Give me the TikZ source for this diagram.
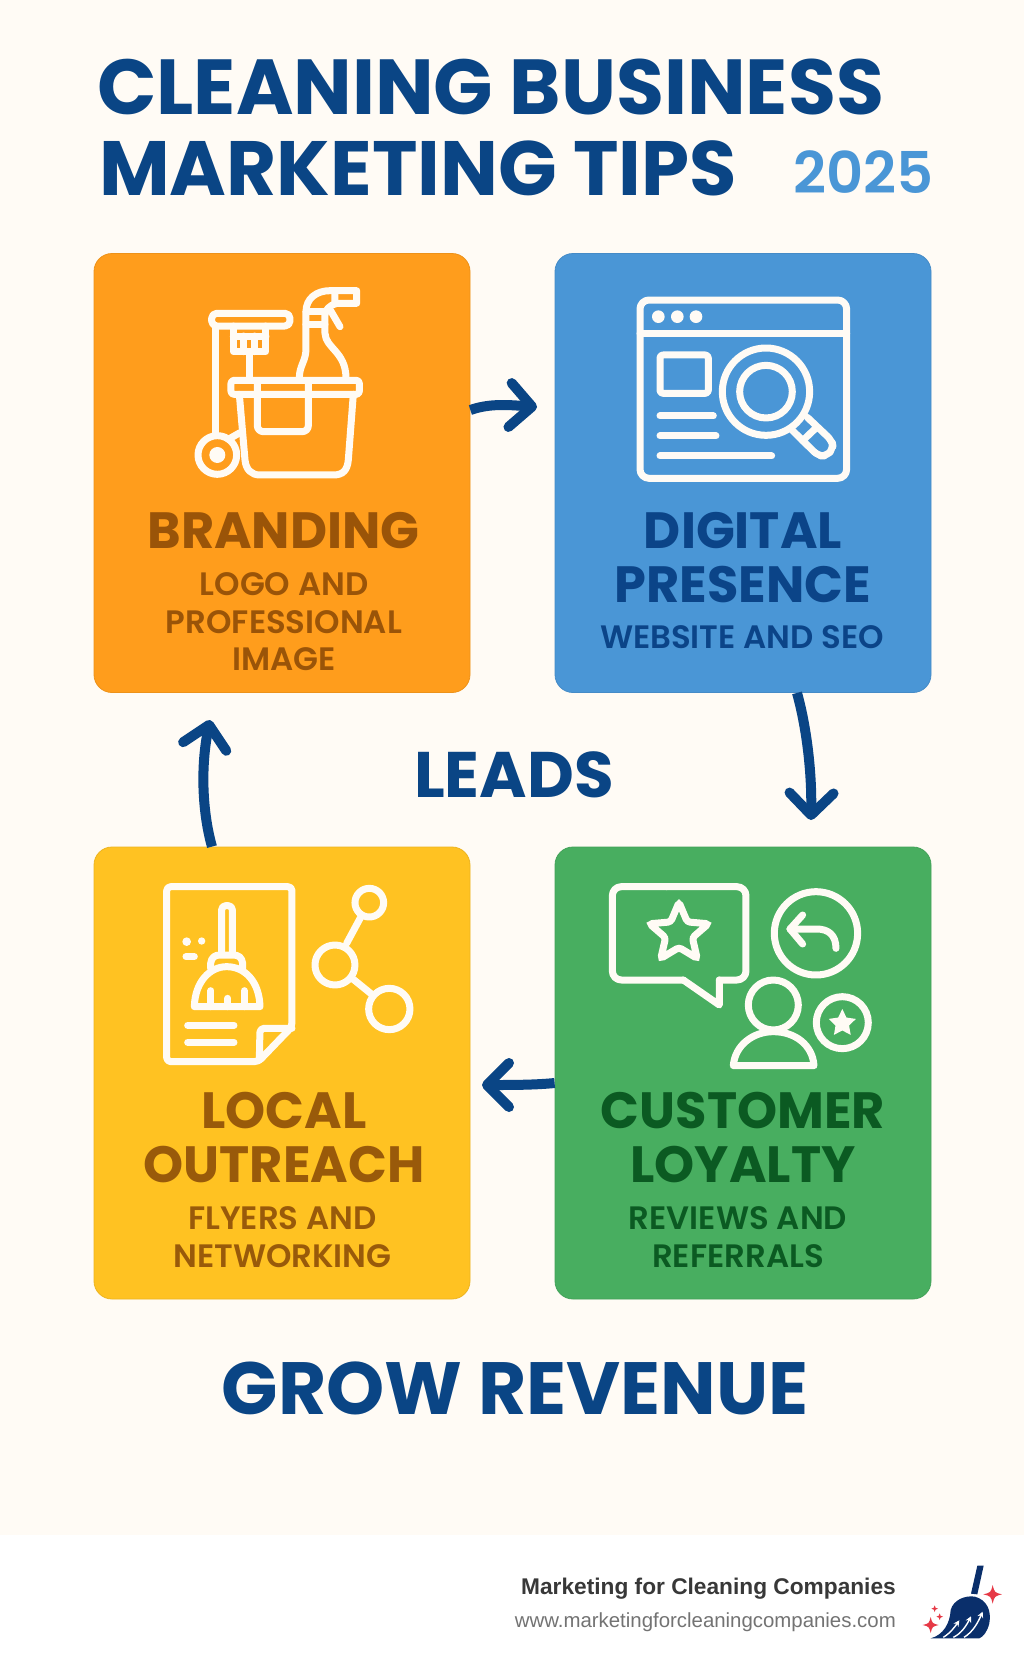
\documentclass[tikz,border=0pt]{standalone}
\usepackage{fontspec}
\setmainfont{Poppins}
\newfontfamily\subfont[UprightFont=* SemiBold]{Poppins}
\newfontfamily\footfont{Liberation Sans}
\usetikzlibrary{arrows.meta,shapes.geometric}
\definecolor{paper}{HTML}{FFFBF5}
\definecolor{navy}{HTML}{0A4585}
\definecolor{logonavy}{HTML}{0A2F6B}
\definecolor{sparkred}{HTML}{E63946}
\definecolor{boxorange}{HTML}{FF9D1C}
\definecolor{boxblue}{HTML}{4A96D6}
\definecolor{boxyellow}{HTML}{FFC222}
\definecolor{boxgreen}{HTML}{48AE60}
\definecolor{inkorange}{HTML}{9A5408}
\definecolor{inkblue}{HTML}{0B4488}
\definecolor{inkyellow}{HTML}{995A0A}
\definecolor{inkgreen}{HTML}{0B5A22}
\tikzset{
  tile/.style={draw=#1!93!black,line width=0.8pt,fill=#1,rounded corners=18pt,minimum width=376pt,minimum height=439pt,inner sep=0pt},
  head/.style={inner sep=0pt,align=center,text=#1,font=\fontsize{51}{54}\selectfont\bfseries},
  sub/.style={inner sep=0pt,align=center,text=#1,font=\subfont\fontsize{32.4}{37.5}\selectfont},
  flowarrow/.style={draw=navy,line width=10pt,-{Straight Barb[length=22pt,width=44pt,round]}},
  icon/.style={draw=paper,line width=7pt,line cap=round,line join=round},
  zoomed/.style={x=0.3333pt,y=-0.3333pt}
}
\newcommand{\sparkle}[3]{\fill[sparkred] (#1-#3,#2) .. controls (#1-0.2*#3,#2-0.2*#3) .. (#1,#2-#3) .. controls (#1+0.2*#3,#2-0.2*#3) .. (#1+#3,#2) .. controls (#1+0.2*#3,#2+0.2*#3) .. (#1,#2+#3) .. controls (#1-0.2*#3,#2+0.2*#3) .. cycle;}
\begin{document}
\begin{tikzpicture}[x=1pt,y=-1pt]
  \useasboundingbox (0,0) rectangle (1024,1666);
  \fill[paper] (0,0) rectangle (1024,1535);
  \fill[white] (0,1535) rectangle (1024,1666);

  \node[inner sep=0pt,anchor=west,text=navy,font=\fontsize{78}{90}\selectfont\bfseries] (titleone) at (97,87) {CLEANING BUSINESS};
  \node[inner sep=0pt,anchor=west,text=navy,font=\fontsize{77}{90}\selectfont\bfseries] (titletwo) at (99,168) {MARKETING TIPS};
  \node[inner sep=0pt,anchor=east,text=boxblue,font=\subfont\fontsize{57.5}{70}\selectfont] (year) at (934,172) {2025};

  \node[tile=boxorange] (branding) at (282,473) {};
  \node[tile=boxblue] (digital) at (743,473) {};
  \node[tile=boxyellow,minimum height=452pt] (outreach) at (282,1073) {};
  \node[tile=boxgreen,minimum height=452pt] (loyalty) at (743,1073) {};

  \node[head=inkorange] (brandinghead) at (283.5,531) {BRANDING};
  \node[sub=inkorange] (brandingsub) at (284,622) {LOGO AND\\PROFESSIONAL\\IMAGE};
  \node[head=inkblue] (digitalhead) at (743,558) {DIGITAL\\PRESENCE};
  \node[sub=inkblue] (digitalsub) at (742,637) {WEBSITE AND SEO};
  \node[head=inkyellow] (outreachhead) at (284,1138) {LOCAL\\OUTREACH};
  \node[sub=inkyellow] (outreachsub) at (282.5,1237) {FLYERS AND\\NETWORKING};
  \node[head=inkgreen] (loyaltyhead) at (743,1138) {CUSTOMER\\LOYALTY};
  \node[sub=inkgreen] (loyaltysub) at (738,1237) {REVIEWS AND\\REFERRALS};

  \node[inner sep=0pt,text=navy,font=\fontsize{64.4}{68}\selectfont\bfseries] (leads) at (514,775) {LEADS};
  \node[inner sep=0pt,text=navy,font=\fontsize{74}{80}\selectfont\bfseries] (revenue) at (515,1388) {GROW REVENUE};

  % free ends of the arrows
  \coordinate (digitalin) at (537,407);
  \coordinate (loyaltyin) at (811,820);
  \coordinate (outreachin) at (482,1085);
  \coordinate (brandingin) at (210,720);
  \draw[flowarrow] ([yshift=63pt]branding.east) .. controls (490,403) and (510,405) .. (digitalin);
  \draw[flowarrow] ([xshift=54pt]digital.south) .. controls (806,725) and (812,770) .. (loyaltyin);
  \draw[flowarrow] ([yshift=-10pt]loyalty.west) .. controls (535,1085) and (510,1085) .. (outreachin);
  \draw[flowarrow] ([xshift=-70pt]outreach.north) .. controls (203,815) and (200,770) .. (brandingin);

  % cleaning caddy
  \begin{scope}[shift={(180,270)},zoomed]
    \draw[icon,rounded corners=5pt] (95,130) rectangle (330,168);
    \draw[icon] (108,168)--(108,495);
    \draw[icon] (160,168)--(160,245)--(258,245)--(258,168);
    \draw[icon] (160,198)--(258,198) (192,198)--(192,245) (225,198)--(225,245);
    \draw[icon] (210,245)--(210,330);
    \draw[icon] (112,555) circle[radius=58];
    \fill[paper] (112,555) circle[radius=24];
    \draw[icon] (145,508)--(180,488);
    \draw[icon,rounded corners=3pt] (153,331) rectangle (538,373);
    \draw[icon] (178,373)--(195,570) .. controls (198,600) and (215,615) .. (240,615)--(460,615) .. controls (490,615) and (502,600) .. (505,570)--(520,373);
    \draw[icon,rounded corners=6pt] (232,335)--(232,485)--(385,485)--(385,335);
    \draw[icon] (358,325) .. controls (358,285) and (378,275) .. (378,235)--(378,125) .. controls (378,85) and (410,62) .. (450,62)--(530,62)--(530,100)--(470,100) .. controls (450,105) and (435,120) .. (435,135)--(435,190) .. controls (437,235) and (498,245) .. (498,325);
    \draw[icon] (378,125)--(435,125) (378,162)--(435,162);
    \draw[icon] (465,62)--(465,100) (452,122)--(480,170);
  \end{scope}

  % browser and magnifier
  \begin{scope}[shift={(620,280)},zoomed]
    \draw[icon,rounded corners=9pt] (60,60) rectangle (680,595);
    \draw[icon] (60,160)--(680,160);
    \foreach \dotx in {115,172,228}
      \fill[paper] (\dotx,110) circle[radius=19];
    \draw[icon,rounded corners=3pt] (120,225) rectangle (265,340);
    \draw[icon] (120,408)--(280,408) (120,468)--(288,468) (120,528)--(455,528);
    \draw[icon] (438,335) circle[radius=131];
    \draw[icon] (438,335) circle[radius=79];
    \draw[icon,rounded corners=6pt] (562,412)--(636,482)--(640,505)--(620,528)--(595,528)--(518,452);
    \draw[icon] (548,482)--(590,442);
  \end{scope}

  % flyer and network
  \begin{scope}[shift={(150,870)},zoomed]
    \draw[icon,rounded corners=4pt] (200,50)--(426,50)--(426,470)--(325,575)--(50,575)--(50,50)--(200,50);
    \draw[icon,rounded corners=4pt] (426,475)--(330,475)--(328,570);
    \draw[icon,rounded corners=4pt] (215,250)--(215,107)--(247,107)--(247,250);
    \draw[icon] (182,295)--(182,280) .. controls (184,262) and (195,255) .. (210,255)--(250,255) .. controls (265,255) and (276,262) .. (278,280)--(278,295);
    \draw[icon] (133,410) .. controls (135,335) and (180,290) .. (230,290) .. controls (285,290) and (328,335) .. (330,410)--cycle;
    \draw[icon] (183,362)--(183,410) (233,385)--(233,410) (283,362)--(283,410);
    \fill[paper] (110,215) circle[radius=13] (155,213) circle[radius=11];
    \draw[icon] (108,260)--(133,260);
    \draw[icon] (113,466)--(252,466) (113,517)--(252,517);
    \draw[icon] (658,98) circle[radius=43] (555,285) circle[radius=60] (718,417) circle[radius=62];
    \draw[icon] (632,142)--(590,220) (610,328)--(668,375);
  \end{scope}

  % reviews and referrals
  \begin{scope}[shift={(600,870)},zoomed]
    \draw[icon,rounded corners=9pt] (200,50)--(438,50)--(438,330)--(358,330);
    \draw[icon,rounded corners=9pt] (250,330)--(37,330)--(37,50)--(200,50);
    \draw[icon] (358,330)--(358,405)--(250,330);
    \node[star,star points=5,star point ratio=2.2,minimum size=62pt,draw=paper,line width=7pt,rounded corners=3pt,inner sep=0pt] (ratestar) at (237,190) {};
    \draw[icon] (648,190) circle[radius=125];
    \draw[icon] (708,235) .. controls (708,195) and (685,177) .. (650,177)--(570,177);
    \draw[icon] (608,135)--(570,177)--(608,222);
    \draw[icon] (520,405) circle[radius=75];
    \draw[icon] (400,587) .. controls (405,525) and (460,485) .. (520,485) .. controls (585,485) and (638,525) .. (642,587)--cycle;
    \draw[icon] (727,458) circle[radius=78];
    \node[star,star points=5,star point ratio=2.0,minimum size=24pt,fill=paper,draw=paper,line width=2pt,inner sep=0pt] (badgestar) at (727,460) {};
  \end{scope}

  \node[inner sep=0pt,anchor=east,text=black!78,font=\footfont\fontsize{22.7}{26}\selectfont\bfseries] (brandname) at (896,1589) {Marketing for Cleaning Companies};
  \node[inner sep=0pt,anchor=east,text=black!55,font=\footfont\fontsize{20.4}{26}\selectfont] (brandurl) at (896,1622) {www.marketingforcleaningcompanies.com};

  % logo
  \begin{scope}[shift={(900,1555)},zoomed]
    \fill[logonavy] (232,32)--(251,32)--(232,118)--(213,116)--cycle;
    \fill[logonavy] (92,250) .. controls (130,240) and (150,205) .. (152,165) .. controls (160,135) and (195,120) .. (225,125) .. controls (260,135) and (275,165) .. (268,205) .. controls (262,230) and (250,245) .. (238,250)--cycle;
    \draw[white,line width=1.4pt,-{Stealth[length=6pt,width=6pt]}] (130,247) .. controls (150,235) and (165,215) .. (178,196);
    \draw[white,line width=1.4pt,-{Stealth[length=6pt,width=6pt]}] (160,247) .. controls (185,235) and (200,210) .. (213,184);
    \draw[white,line width=1.4pt,-{Stealth[length=6pt,width=6pt]}] (192,247) .. controls (220,230) and (235,200) .. (248,170);
    \sparkle{278}{118}{28}
    \sparkle{92}{210}{24}
    \sparkle{104}{161}{10}
    \sparkle{119}{185}{10}
  \end{scope}
\end{tikzpicture}
\end{document}
